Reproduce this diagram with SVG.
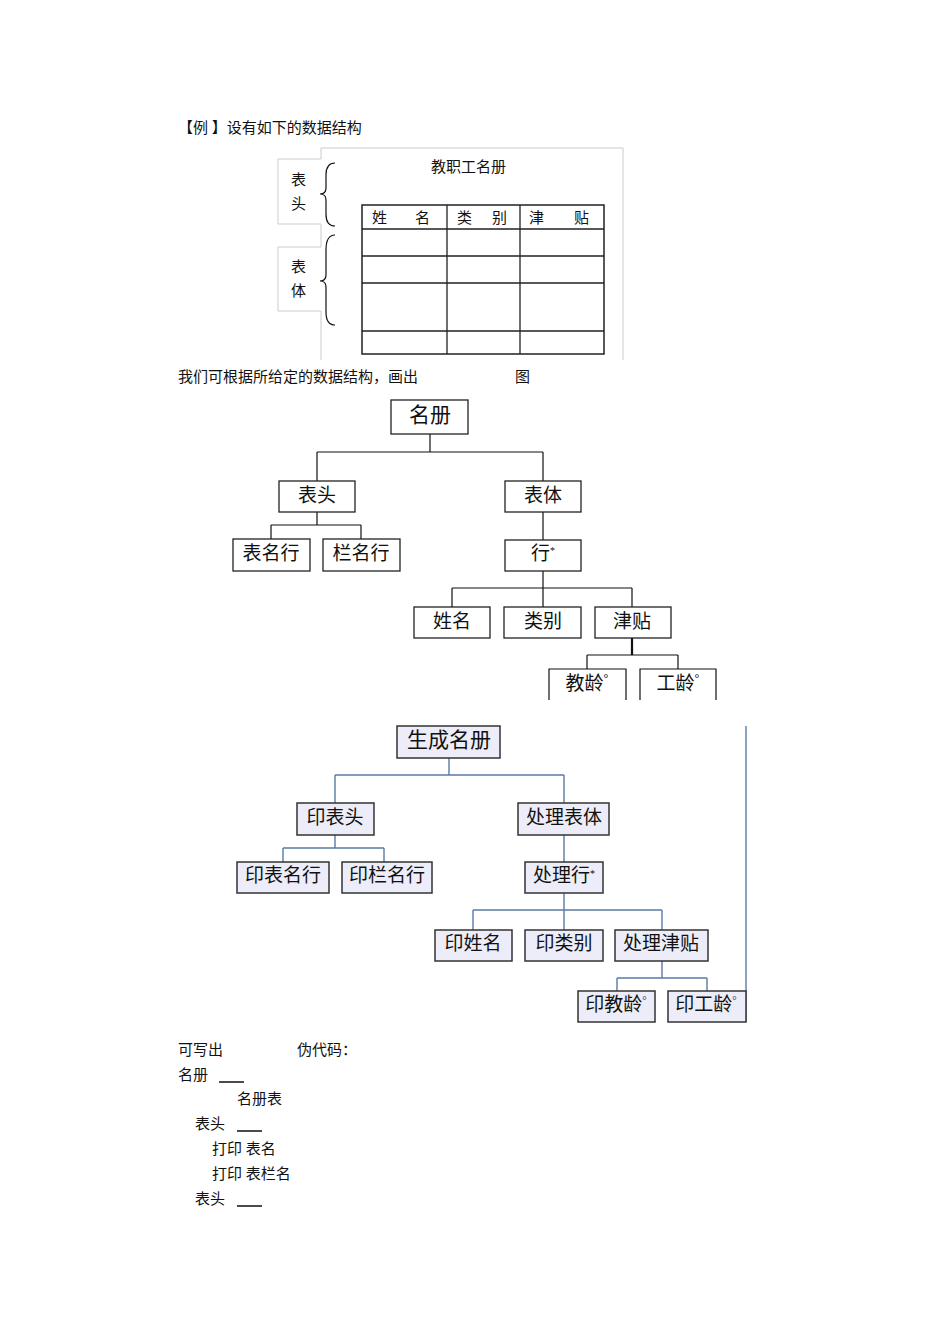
<svg xmlns="http://www.w3.org/2000/svg" width="950" height="1344" viewBox="0 0 950 1344">
<style>
text{font-family:"Liberation Serif","Noto Sans CJK SC",serif;fill:#111}
.t{font-size:15px}
.b{fill:#fff;stroke:#222;stroke-width:1.3}
.c{fill:#ecedf8;stroke:#333;stroke-width:1.5}
.l{fill:none;stroke:#111;stroke-width:1.2}
.bl{fill:none;stroke:#5a7aa5;stroke-width:1.4}
.n{font-size:19px;text-anchor:middle}
</style>
<rect width="950" height="1344" fill="#fff"/>
<text class="t" x="178" y="133">【例  】设有如下的数据结构</text>
<g id="table">
<path d="M321,148 H623 V360 M321,148 V159 M278,159 H321 M278,159 V224 H321 V247 H278 V311 H321 V360" fill="none" stroke="#ccc" stroke-width="1"/>
<path d="M335,163 Q326,163 326,175 V188 Q326,194 320,194 Q326,194 326,200 V214 Q326,226 335,226" class="l"/>
<path d="M335,235 Q326,235 326,250 V275 Q326,281 320,281 Q326,281 326,287 V312 Q326,325 335,325" class="l"/>
<text class="t" x="291" y="185">表</text><text class="t" x="291" y="209">头</text>
<text class="t" x="291" y="272">表</text><text class="t" x="291" y="296">体</text>
<text class="t" x="431" y="172">教职工名册</text>
<rect x="362" y="205" width="242" height="149" fill="none" stroke="#222" stroke-width="1.5"/>
<path d="M447,205V354M520,205V354M362,229H604M362,256H604M362,283H604M362,331H604" stroke="#222" stroke-width="1.3"/>
<text class="t" x="372" y="223">姓</text><text class="t" x="415" y="223">名</text>
<text class="t" x="457" y="223">类</text><text class="t" x="492" y="223">别</text>
<text class="t" x="529" y="223">津</text><text class="t" x="574" y="223">贴</text>
</g>
<text class="t" x="178" y="382">我们可根据所给定的数据结构，画出</text>
<text class="t" x="515" y="382">图</text>
<g id="connectors1" class="l">
<path d="M430,434V452M317,452H543M317,452V481M543,452V481M317,512V525M271,525H361M271,525V539M361,525V539M543,512V540M543,571V588M452,588H632M452,588V607M543,588V607M632,588V607"/>
<path d="M632,638V655" stroke-width="2.2"/>
<path d="M587,655H678M587,655V669M678,655V669"/>
</g>
<g id="t1-root"><rect class="b" x="391" y="400" width="77" height="34"/><text class="n" x="430" y="422" style="font-size:21px">名册</text></g>
<g id="t1-head"><rect class="b" x="279" y="481" width="76" height="31"/><text class="n" x="317" y="502">表头</text></g>
<g id="t1-body"><rect class="b" x="505" y="481" width="76" height="31"/><text class="n" x="543" y="502">表体</text></g>
<g id="t1-tname"><rect class="b" x="233" y="539" width="77" height="32"/><text class="n" x="271" y="560">表名行</text></g>
<g id="t1-cname"><rect class="b" x="323" y="539" width="77" height="32"/><text class="n" x="361" y="560">栏名行</text></g>
<g id="t1-row"><rect class="b" x="505" y="540" width="76" height="31"/><text class="n" x="543" y="560">行<tspan font-size="10" dy="-6">*</tspan></text></g>
<g id="t1-name"><rect class="b" x="414" y="607" width="76" height="31"/><text class="n" x="452" y="628">姓名</text></g>
<g id="t1-type"><rect class="b" x="504" y="607" width="77" height="31"/><text class="n" x="543" y="628">类别</text></g>
<g id="t1-allow"><rect class="b" x="595" y="607" width="76" height="31"/><text class="n" x="632" y="628">津贴</text></g>
<g id="t1-jl"><path class="l" d="M549,700V669H626V700"/><text class="n" x="587" y="690">教龄<tspan font-size="12" dy="-8">°</tspan></text></g>
<g id="t1-gl"><path class="l" d="M640,700V669H716V700"/><text class="n" x="678" y="690">工龄<tspan font-size="12" dy="-8">°</tspan></text></g>
<g id="connectors2" class="bl">
<path d="M449,758V775M335,775H564M335,775V803M564,775V803M335,835V848M283,848H384M283,848V862M384,848V862M564,835V862M564,893V910M473,910H662M473,910V930M564,910V930M662,910V930M662,961V978M617,978H707M617,978V991M707,978V991M746,726V1022"/>
</g>
<g id="t2-root"><rect class="c" x="397" y="726" width="103" height="32"/><text class="n" x="449" y="747" style="font-size:21px">生成名册</text></g>
<g id="t2-head"><rect class="c" x="297" y="803" width="77" height="32"/><text class="n" x="335" y="824">印表头</text></g>
<g id="t2-body"><rect class="c" x="518" y="803" width="91" height="32"/><text class="n" x="564" y="824">处理表体</text></g>
<g id="t2-tname"><rect class="c" x="237" y="862" width="92" height="31"/><text class="n" x="283" y="882">印表名行</text></g>
<g id="t2-cname"><rect class="c" x="342" y="862" width="90" height="31"/><text class="n" x="387" y="882">印栏名行</text></g>
<g id="t2-row"><rect class="c" x="525" y="862" width="78" height="31"/><text class="n" x="564" y="882">处理行<tspan font-size="10" dy="-5">*</tspan></text></g>
<g id="t2-name"><rect class="c" x="435" y="930" width="77" height="31"/><text class="n" x="473" y="950">印姓名</text></g>
<g id="t2-type"><rect class="c" x="525" y="930" width="78" height="31"/><text class="n" x="564" y="950">印类别</text></g>
<g id="t2-allow"><rect class="c" x="615" y="930" width="93" height="31"/><text class="n" x="661" y="950">处理津贴</text></g>
<g id="t2-jl"><rect class="c" x="578" y="991" width="77" height="31"/><text class="n" x="616" y="1011">印教龄<tspan font-size="11" dy="-7">°</tspan></text></g>
<g id="t2-gl"><rect class="c" x="668" y="991" width="78" height="31"/><text class="n" x="706" y="1011">印工龄<tspan font-size="11" dy="-7">°</tspan></text></g>
<g class="t">
<text x="178" y="1055">可写出</text><text x="297" y="1055">伪代码：</text>
<text x="178" y="1080">名册</text>
<text x="237" y="1104">名册表</text>
<text x="195" y="1129">表头</text>
<text x="212" y="1154">打印  表名</text>
<text x="212" y="1179">打印  表栏名</text>
<text x="195" y="1204">表头</text>
</g>
<path d="M219,1082H244M237,1131H262M237,1206H262" stroke="#111" stroke-width="1.5"/>
</svg>
